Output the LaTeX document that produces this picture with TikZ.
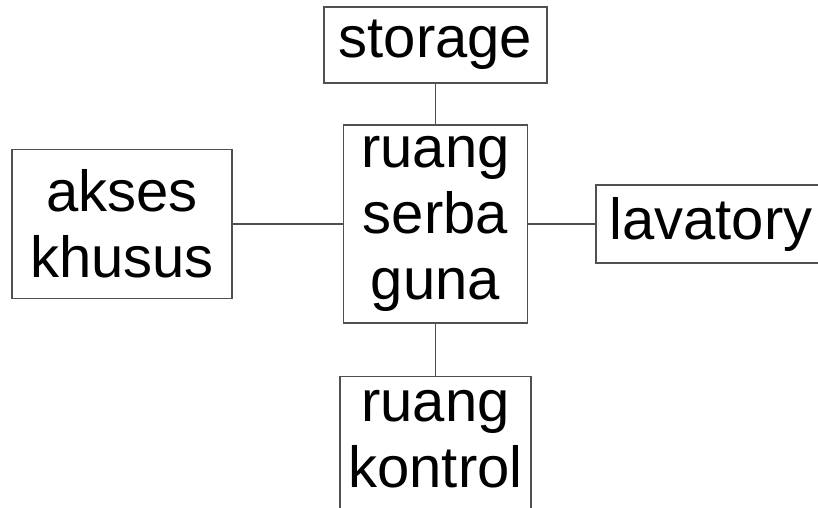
\documentclass[tikz,border=0pt]{standalone}
\usepackage{fontspec}
\setmainfont{Liberation Sans}
\usepackage{tikz}
\usetikzlibrary{positioning}
\usepackage{xcolor}
\definecolor{boxline}{HTML}{505050}

\begin{document}
\begin{tikzpicture}[x=1pt, y=-1pt,
       room/.style={draw=boxline, line width=1.3pt, align=center, inner sep=0pt,
                    font=\fontsize{58}{66}\selectfont}]
       \useasboundingbox (0,0) rectangle (818,507);
       \node[room, minimum width=184pt, minimum height=198pt] (serba)    at (435.5, 224)   {ruang\\serba\\guna};
       \node[room, minimum width=223pt, minimum height=76pt]  (storage)  at (435.5, 45)    {storage};
       \node[room, minimum width=220pt, minimum height=149pt] (akses)    at (122, 224)     {akses\\khusus};
       \node[room, minimum width=230pt, minimum height=78pt]  (lavatory) at (711, 224)     {lavatory};
       \node[room, anchor=north, minimum width=191pt, inner ysep=14pt, text depth=120pt] (kontrol) at (435.5, 376) {ruang\\kontrol};

       \draw[boxline, line width=1.3pt] (storage) -- (serba);
       \draw[boxline, line width=1.3pt] (akses) -- (serba);
       \draw[boxline, line width=1.3pt] (serba) -- (lavatory);
       \draw[boxline, line width=1.3pt] (serba) -- (kontrol.north);
    \end{tikzpicture}
\end{document}
